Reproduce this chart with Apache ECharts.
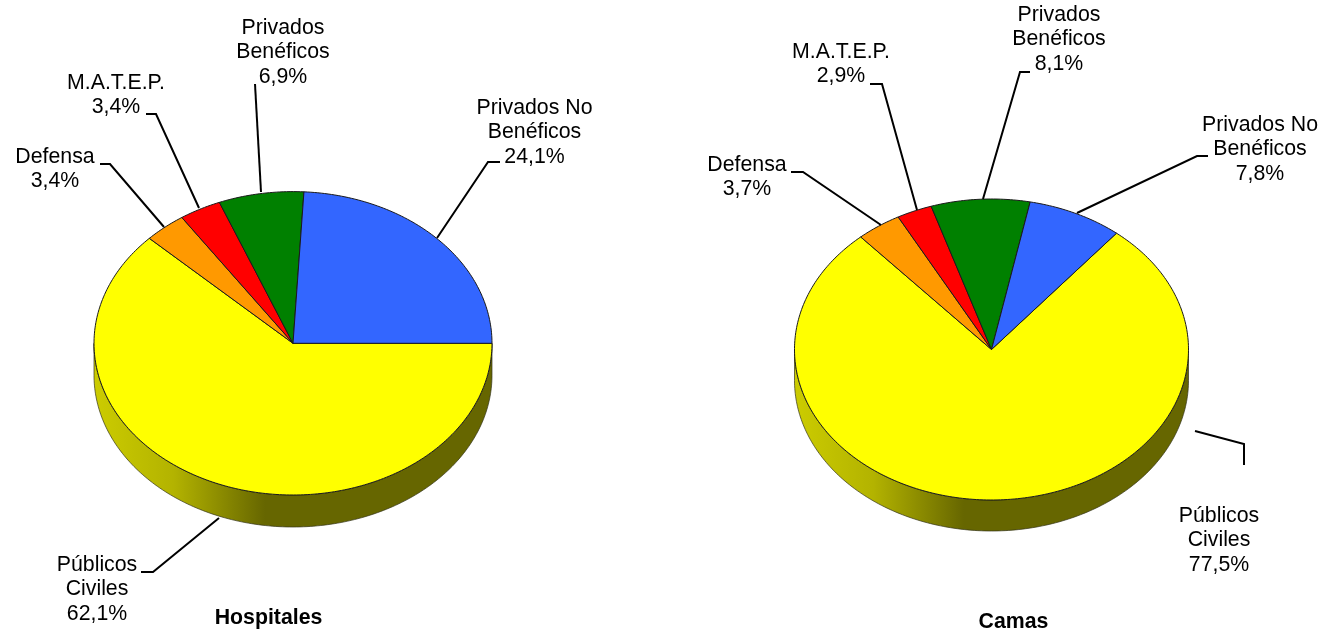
<!DOCTYPE html>
<html lang="es">
  <head>
    <meta charset="UTF-8" />
    <title>Hospitales y Camas</title>
    <style>
      html, body { margin: 0; background: #fff; }
    </style>
  </head>
  <body>
    <div id="main" style="width: 1326px; height: 635px"></div>
    <script src="https://cdn.jsdelivr.net/npm/echarts@6/dist/echarts.min.js"></script>
    <script>
      // datos
      const categories = ['Públicos\nCiviles', 'Defensa', 'M.A.T.E.P.', 'Privados\nBenéficos', 'Privados No\nBenéficos']
      const hospitales = [62.1, 3.4, 3.4, 6.9, 24.1]
      const camas = [77.5, 3.7, 2.9, 8.1, 7.8]
      const colors = ['#FFFF00', '#FF9900', '#FF0000', '#008000', '#3366FF']

      const FONT = '21.3px "Liberation Sans", Arial, sans-serif'
      const LINE_H = 24.5

      // posicion de cada tarta
      const leftPie = { cx: 293, cy: 343.3, rx: 199, ry: 151.7, depth: 32, start: 0 }
      const rightPie = { cx: 991.5, cy: 349.5, rx: 197, ry: 150.5, depth: 31, start: -50.6 }

      // etiquetas: centro del texto [x, y de la primera linea]
      const leftLabelPos = [[97, 565], [55, 157], [116, 83], [283, 28], [534.5, 108]]
      const rightLabelPos = [[1219, 516], [747, 165], [841, 52], [1059, 15], [1260, 125]]

      // lineas guia
      const leftLeaders = [
        [[141, 572], [153, 572], [219, 518]],
        [[100, 164], [110, 164], [164, 227]],
        [[146, 114], [156, 114], [199, 208]],
        [[255, 84], [261, 192]],
        [[500, 162], [488, 162], [437, 238]]
      ]
      const rightLeaders = [
        [[1195, 431], [1244, 444], [1244, 465]],
        [[791, 172], [803, 172], [881, 225]],
        [[870, 84], [882, 84], [917, 210]],
        [[1030, 72], [1020, 72], [983, 199]],
        [[1208, 156], [1197, 156], [1077, 213]]
      ]

      const shade = (hex, f) => {
        const n = parseInt(hex.slice(1), 16)
        const c = [n >> 16, (n >> 8) & 255, n & 255].map(v => Math.round(v * f))
        return `rgb(${c.join(',')})`
      }

      const rimPoint = (p, deg, dy = 0) => {
        const t = (deg * Math.PI) / 180
        return [p.cx + p.rx * Math.cos(t), p.cy + p.ry * Math.sin(t) + dy]
      }

      const arcPoints = (p, a0, a1, dy = 0) => {
        const pts = []
        const steps = Math.max(2, Math.ceil(a1 - a0))
        for (let i = 0; i <= steps; i++) {
          pts.push(rimPoint(p, a0 + ((a1 - a0) * i) / steps, dy))
        }
        return pts
      }

      const pieSeries = (values, p, labelPos, leaders) => {
        const total = values.reduce((a, b) => a + b, 0)
        const startAngles = []
        values.reduce((acc, v) => {
          startAngles.push(acc)
          return acc + (v / total) * 360
        }, p.start)

        return {
          type: 'custom',
          coordinateSystem: 'none',
          silent: true,
          data: values,
          renderItem: (params, api) => {
            const i = params.dataIndex
            const a0 = startAngles[i]
            const a1 = a0 + (api.value(0) / total) * 360
            const color = colors[i]
            const children = []

            // pared lateral, solo la mitad delantera
            const lo = Math.max(a0, 0)
            const hi = Math.min(a1, 180)
            if (hi > lo) {
              const top = arcPoints(p, lo, hi)
              const bottom = arcPoints(p, lo, hi, p.depth).reverse()
              children.push({
                type: 'polygon',
                z2: 1,
                shape: { points: top.concat(bottom) },
                style: {
                  fill: new echarts.graphic.LinearGradient(
                    p.cx - p.rx, 0, p.cx + p.rx, 0,
                    [
                      { offset: 0, color: shade(color, 0.8) },
                      { offset: 0.2, color: shade(color, 0.7) },
                      { offset: 0.43, color: shade(color, 0.4) },
                      { offset: 1, color: shade(color, 0.4) }
                    ],
                    true
                  ),
                  stroke: '#33331a',
                  lineWidth: 0.7
                }
              })
            }

            // cara superior
            children.push({
              type: 'polygon',
              z2: 2,
              shape: { points: [[p.cx, p.cy]].concat(arcPoints(p, a0, a1)) },
              style: { fill: color, stroke: '#1a1a1a', lineWidth: 1 }
            })

            // linea guia
            children.push({
              type: 'polyline',
              z2: 3,
              shape: { points: leaders[i] },
              style: { fill: null, stroke: '#000', lineWidth: 2 }
            })

            // etiqueta
            const lines = `${categories[i]}\n${String(api.value(0)).replace('.', ',')}%`.split('\n')
            lines.forEach((line, k) => {
              children.push({
                type: 'text',
                z2: 4,
                style: {
                  text: line,
                  x: labelPos[i][0],
                  y: labelPos[i][1] + k * LINE_H,
                  align: 'center',
                  verticalAlign: 'middle',
                  font: FONT,
                  fill: '#000'
                }
              })
            })

            return { type: 'group', children }
          }
        }
      }

      const myChart = echarts.init(document.getElementById('main'))

      myChart.setOption({
        animation: false,
        title: [
          {
            text: 'Hospitales',
            left: 268.5,
            top: 608,
            textAlign: 'center',
            textStyle: { fontFamily: '"Liberation Sans", Arial, sans-serif', fontSize: 21.3, fontWeight: 'bold', color: '#000' },
            padding: 0
          },
          {
            text: 'Camas',
            left: 1013.5,
            top: 612,
            textAlign: 'center',
            textStyle: { fontFamily: '"Liberation Sans", Arial, sans-serif', fontSize: 21.3, fontWeight: 'bold', color: '#000' },
            padding: 0
          }
        ],
        series: [
          pieSeries(hospitales, leftPie, leftLabelPos, leftLeaders),
          pieSeries(camas, rightPie, rightLabelPos, rightLeaders)
        ]
      })
    </script>
  </body>
</html>
